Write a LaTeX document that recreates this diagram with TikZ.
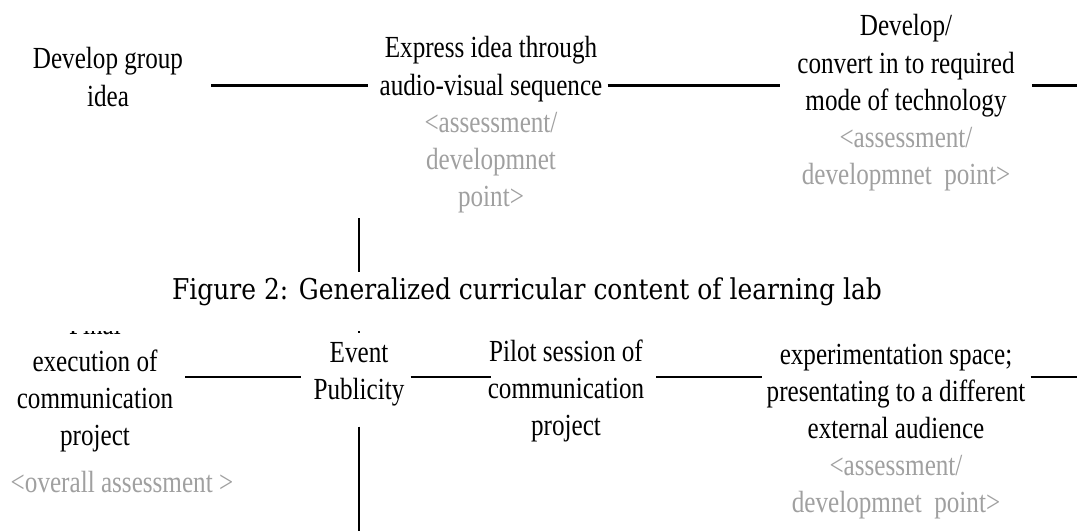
\documentclass[tikz,border=0pt]{standalone}
\usepackage{fontspec}
\setmainfont{Liberation Serif}[FakeStretch=0.82]
\newfontfamily\captionserif{DejaVu Serif}[FakeStretch=0.87]
\usetikzlibrary{calc}
\definecolor{notegray}{RGB}{160,160,160}
\newcommand\stepfont{\fontsize{23pt}{27.9pt}\selectfont}
\newcommand\capfont{\captionserif\fontsize{21.5pt}{25pt}\selectfont}
\newcommand\blocklines[1]{\begin{tabular}[t]{@{}c@{}}#1\end{tabular}}
\newcommand\grayline[1]{\textcolor{notegray}{#1}}
\begin{document}
\begin{tikzpicture}[x=0.75pt,y=-0.75pt,
  lbl/.style={anchor=base,inner sep=0pt,font=\stepfont},
  conn/.style={line width=1.8pt}]
\useasboundingbox (0,0) rectangle (1077,531);
\fill[white] (0,0) rectangle (1077,531);
% reference rows and frame edges
\coordinate (row1) at (0,85.5);
\coordinate (row2) at (0,377);
\coordinate (edge) at (1077,0);
\coordinate (floor) at (0,531);

% upper row of steps
\node[lbl] (devgroup) at (108,69) {\blocklines{Develop group\\idea}};
\node[lbl] (express) at (491,58) {\blocklines{Express idea through\\audio-visual sequence\\
  \grayline{<assessment/}\\\grayline{developmnet}\\\grayline{point>}}};
\node[lbl] (convert) at (906,36) {\blocklines{Develop/\\convert in to required\\mode of technology\\
  \grayline{<assessment/}\\\grayline{developmnet~ point>}}};

% lower row of steps
\node[lbl] (final) at (95,334) {\blocklines{Final\\execution of\\communication\\project}};
\node[lbl] (overall) at (122,492) {\grayline{<overall assessment >}};
\node[lbl] (event) at (359,362) {\blocklines{Event\\Publicity}};
\node[lbl] (pilot) at (566,361) {\blocklines{Pilot session of\\communication\\project}};
\node[lbl] (space) at (896,364) {\blocklines{experimentation space;\\presentating to a different\\external audience\\
  \grayline{<assessment/}\\\grayline{developmnet~ point>}}};

% connectors, upper row
\draw[conn] ($(devgroup.east |- row1)+(28,0)$) -- ($(express.west |- row1)+(-11,0)$);
\draw[conn] ($(express.east |- row1)+(5,0)$) -- ($(convert.west |- row1)+(-17,0)$);
\draw[conn] ($(convert.east |- row1)+(17,0)$) -- (edge |- row1);

% connectors, lower row
\draw[conn] ($(final.east |- row2)+(12,0)$) -- ($(event.west |- row2)+(-12,0)$);
\draw[conn] ($(event.east |- row2)+(6,0)$) -- ($(pilot.west |- row2)+(3,0)$);
\draw[conn] ($(pilot.east |- row2)+(12,0)$) -- ($(space.west |- row2)+(-4,0)$);
\draw[conn] ($(space.east |- row2)+(5,0)$) -- (edge |- row2);

% vertical link through the event step
\draw[conn] (event.north |- express.south) -- ($(event.north)+(0,-3)$);
\draw[conn] ($(event.south)+(0,16)$) -- (event.south |- floor);

% caption strip
\fill[white] (0,272) rectangle (1077,331);
\node[anchor=base,inner sep=0pt,font=\capfont] (caption) at (527,299)
  {Figure 2: Generalized curricular content of learning lab};
\end{tikzpicture}
\end{document}
